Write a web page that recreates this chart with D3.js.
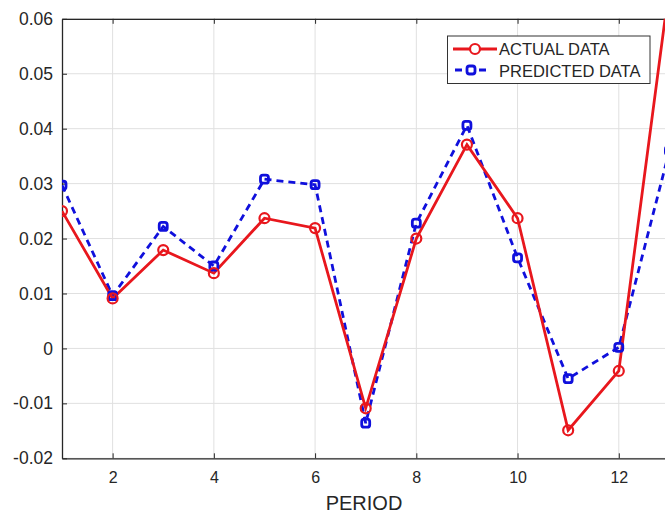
<!DOCTYPE html>
<html>
<head>
<meta charset="utf-8">
<script src="https://cdn.jsdelivr.net/npm/d3@7"></script>
<style>
  html, body { margin: 0; padding: 0; background: #fff; overflow: hidden; }
  svg { display: block; font-family: "Liberation Sans", Arial, sans-serif; }
</style>
</head>
<body>
<svg id="chart" width="665" height="513"></svg>
<script>
const periods = [1, 2, 3, 4, 5, 6, 7, 8, 9, 10, 11, 12, 13];
const actualData = [0.025, 0.0091, 0.0179, 0.0137, 0.0237, 0.0219, -0.0109, 0.0200, 0.0371, 0.0237, -0.0149, -0.0041, 0.066];
const predictedData = [0.0297, 0.0096, 0.0222, 0.0150, 0.0308, 0.0298, -0.0136, 0.0228, 0.0406, 0.0165, -0.0055, 0.0002, 0.036];
const xTicks = [2, 4, 6, 8, 10, 12];
const yTicks = [-0.02, -0.01, 0, 0.01, 0.02, 0.03, 0.04, 0.05, 0.06];
const yTickLabels = ["-0.02", "-0.01", "0", "0.01", "0.02", "0.03", "0.04", "0.05", "0.06"];
const seriesNames = ["ACTUAL DATA", "PREDICTED DATA"];
const xLabel = "PERIOD";

const svg = d3.select("#chart");
const L = 62, R = 669.4, T = 18.8, B = 458.3;
const x = d3.scaleLinear().domain([1, 13]).range([L, R]);
const y = d3.scaleLinear().domain([-0.02, 0.06]).range([B, T]);

const RED = "#e8171d", BLUE = "#1010dc", TXT = "#262626";

svg.append("defs").append("clipPath").attr("id", "clip")
  .append("rect").attr("x", L).attr("y", T).attr("width", R - L).attr("height", B - T);

// grid
const grid = svg.append("g");
grid.selectAll(".vg").data(xTicks).join("line")
  .attr("x1", d => x(d)).attr("x2", d => x(d)).attr("y1", T).attr("y2", B)
  .attr("stroke", "#e0e0e0").attr("stroke-width", 1);
grid.selectAll(".hg").data(yTicks).join("line")
  .attr("x1", L).attr("x2", R).attr("y1", d => y(d)).attr("y2", d => y(d))
  .attr("stroke", "#e0e0e0").attr("stroke-width", 1);

// axes
const xAxisB = d3.axisBottom(x).tickValues(xTicks).tickSizeInner(-5).tickSizeOuter(0).tickPadding(13);
const gx = svg.append("g").attr("transform", `translate(0,${B})`).call(xAxisB);
const xAxisT = d3.axisTop(x).tickValues(xTicks).tickSizeInner(-5).tickSizeOuter(0).tickFormat("");
const gxt = svg.append("g").attr("transform", `translate(0,${T})`).call(xAxisT);
const yAxis = d3.axisLeft(y).tickValues(yTicks).tickSizeInner(-5).tickSizeOuter(0).tickPadding(9)
  .tickFormat((d, i) => yTickLabels[i]);
const gy = svg.append("g").attr("transform", `translate(${L},0)`).call(yAxis);
[gx, gxt, gy].forEach(g => {
  g.attr("font-family", "'Liberation Sans', Arial, sans-serif");
  g.select(".domain").attr("stroke", "#262626").attr("stroke-width", 1.3);
  g.selectAll(".tick line").attr("stroke", "#262626").attr("stroke-width", 1);
  g.selectAll(".tick text").attr("fill", TXT);
});
gx.selectAll(".tick text").attr("font-size", 16);
gy.selectAll(".tick text").attr("font-size", 17.5);

svg.append("text").attr("x", 364).attr("y", 510).attr("text-anchor", "middle")
  .attr("fill", TXT).attr("font-size", 20).text(xLabel);

// lines
const plot = svg.append("g").attr("clip-path", "url(#clip)");
const line = d3.line().x((d, i) => x(periods[i])).y(d => y(d));

plot.append("path").datum(predictedData).attr("d", line)
  .attr("fill", "none").attr("stroke", BLUE).attr("stroke-width", 2.8)
  .attr("stroke-dasharray", "7,5");
plot.append("path").datum(actualData).attr("d", line)
  .attr("fill", "none").attr("stroke", RED).attr("stroke-width", 2.8);

plot.selectAll(".pm").data(predictedData).join("rect")
  .attr("x", (d, i) => x(periods[i]) - 4).attr("y", d => y(d) - 4)
  .attr("width", 8).attr("height", 8).attr("rx", 2.5)
  .attr("fill", "none").attr("stroke", BLUE).attr("stroke-width", 2.8);
plot.selectAll(".am").data(actualData).join("circle")
  .attr("cx", (d, i) => x(periods[i])).attr("cy", d => y(d)).attr("r", 5)
  .attr("fill", "none").attr("stroke", RED).attr("stroke-width", 2.2);

// legend
const lg = svg.append("g");
lg.append("rect").attr("x", 447.5).attr("y", 36).attr("width", 202.5).attr("height", 47.5)
  .attr("fill", "#fff").attr("stroke", "#333").attr("stroke-width", 1);
const ly = [49, 70];
lg.append("line").attr("x1", 453).attr("x2", 497).attr("y1", ly[0]).attr("y2", ly[0])
  .attr("stroke", RED).attr("stroke-width", 2.8);
lg.append("circle").attr("cx", 475).attr("cy", ly[0]).attr("r", 5)
  .attr("fill", "#fff").attr("stroke", RED).attr("stroke-width", 2.2);
lg.append("line").attr("x1", 455).attr("x2", 486).attr("y1", ly[1]).attr("y2", ly[1])
  .attr("stroke", BLUE).attr("stroke-width", 2.8).attr("stroke-dasharray", "7,5");
lg.append("rect").attr("x", 467).attr("y", ly[1] - 4).attr("width", 8).attr("height", 8).attr("rx", 2.5)
  .attr("fill", "#fff").attr("stroke", BLUE).attr("stroke-width", 2.8);
lg.selectAll(".lt").data(seriesNames).join("text")
  .attr("x", 499).attr("y", (d, i) => [55, 76.5][i])
  .attr("fill", TXT).attr("font-size", 16.5).text(d => d);
</script>
</body>
</html>
